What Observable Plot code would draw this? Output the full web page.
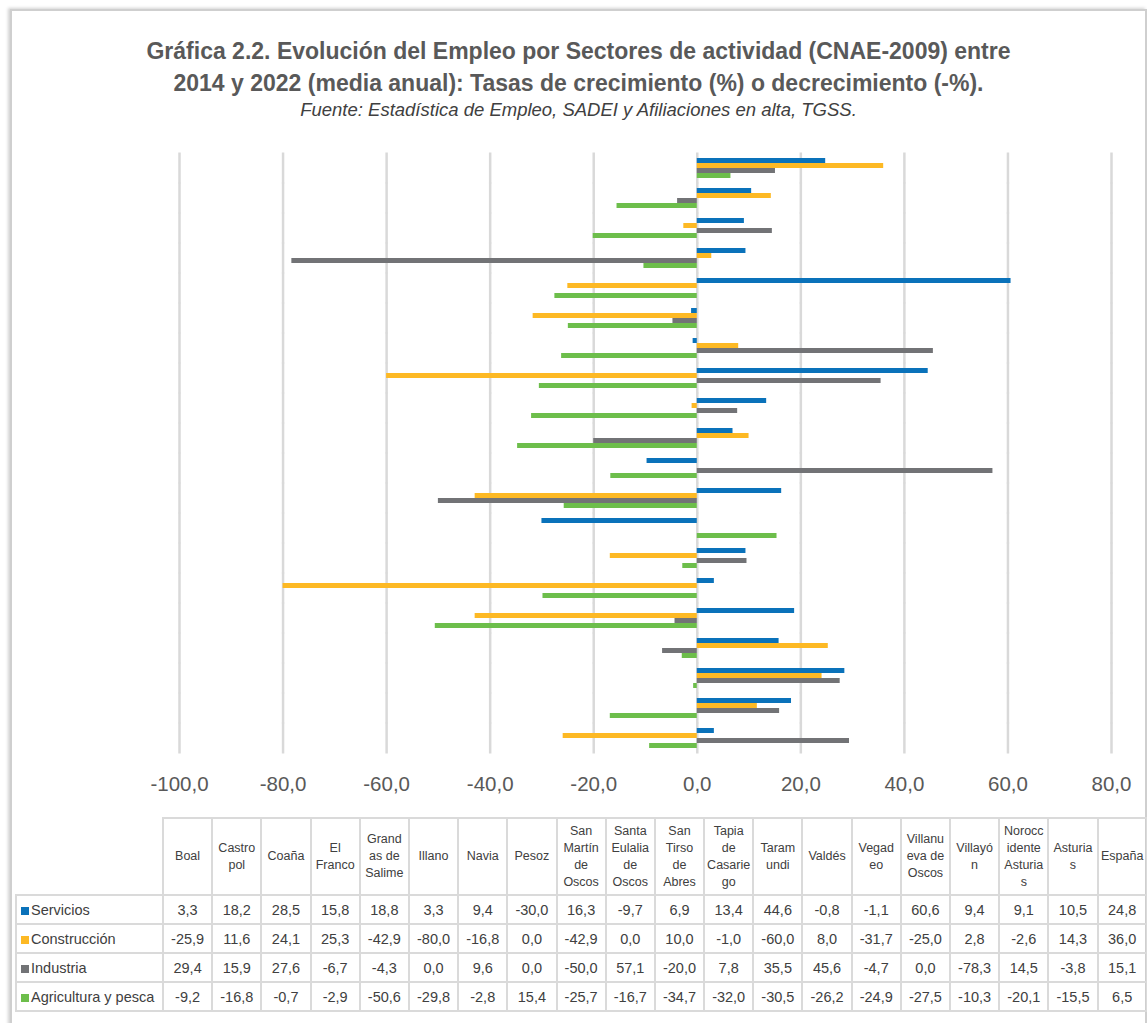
<!DOCTYPE html>
<html><head><meta charset="utf-8">
<script src="https://cdn.jsdelivr.net/npm/d3@7"></script>
<script src="https://cdn.jsdelivr.net/npm/@observablehq/plot@0.6"></script>
<style>
body{margin:0;background:#fff;width:1147px;height:1023px;overflow:hidden;position:relative;font-family:"Liberation Sans",sans-serif;}
#frame{position:absolute;left:10px;top:9px;width:1133px;height:1100px;border:2px solid #cfcfcf;box-shadow:-2px -1px 3px rgba(0,0,0,0.18);}
#title{position:absolute;left:11px;width:1135px;top:35px;text-align:center;color:#595959;font-weight:bold;font-size:23px;line-height:32px;}
#subtitle{position:absolute;left:11px;width:1135px;top:100px;text-align:center;color:#404040;font-style:italic;font-size:18.5px;line-height:20px;}
#chart{position:absolute;left:0;top:130px;}
#tbl{position:absolute;left:15px;top:817px;border-collapse:collapse;table-layout:fixed;width:1131px;font-size:14.5px;color:#404040;}
#tbl td{border:2px solid #dadada;text-align:center;padding:0;white-space:pre-line;overflow:hidden;}
#tbl tr.h td{height:75px;line-height:17px;font-size:12.5px;}
#tbl tr.d td{height:27px;}
#tbl td.lab{text-align:left;padding-left:4px;white-space:nowrap;}
#tbl td.corner{border-top:none;border-left:none;}
.sw{display:inline-block;width:8px;height:8px;margin-right:2px;}
</style></head>
<body>
<div id="frame"></div>
<div id="title">Gráfica 2.2. Evolución del Empleo por Sectores de actividad (CNAE-2009) entre<br>2014 y 2022 (media anual): Tasas de crecimiento (%) o decrecimiento (-%).</div>
<div id="subtitle">Fuente: Estadística de Empleo, SADEI y Afiliaciones en alta, TGSS.</div>
<div id="chart"></div>
<table id="tbl"></table>
<script>
const municipios = ["Boal","Castropol","Coaña","El Franco","Grandas de Salime","Illano","Navia","Pesoz","San Martín de Oscos","Santa Eulalia de Oscos","San Tirso de Abres","Tapia de Casariego","Taramundi","Valdés","Vegadeo","Villanueva de Oscos","Villayón","Noroccidente Asturias","Asturias","España"];
const encabezados = ["Boal","Castro\npol","Coaña","El\nFranco","Grand\nas de\nSalime","Illano","Navia","Pesoz","San\nMartín\nde\nOscos","Santa\nEulalia\nde\nOscos","San\nTirso\nde\nAbres","Tapia\nde\nCasarie\ngo","Taram\nundi","Valdés","Vegad\neo","Villanu\neva de\nOscos","Villayó\nn","Norocc\nidente\nAsturia\ns","Asturia\ns","España"];
const sectores = ["Servicios","Construcción","Industria","Agricultura y pesca"];
const colores = ["#0A72BA","#FDB924","#727376","#6DBE4B"];
const servicios    = [3.3,18.2,28.5,15.8,18.8,3.3,9.4,-30.0,16.3,-9.7,6.9,13.4,44.6,-0.8,-1.1,60.6,9.4,9.1,10.5,24.8];
const construccion = [-25.9,11.6,24.1,25.3,-42.9,-80.0,-16.8,0.0,-42.9,0.0,10.0,-1.0,-60.0,8.0,-31.7,-25.0,2.8,-2.6,14.3,36.0];
const industria    = [29.4,15.9,27.6,-6.7,-4.3,0.0,9.6,0.0,-50.0,57.1,-20.0,7.8,35.5,45.6,-4.7,0.0,-78.3,14.5,-3.8,15.1];
const agricultura  = [-9.2,-16.8,-0.7,-2.9,-50.6,-29.8,-2.8,15.4,-25.7,-16.7,-34.7,-32.0,-30.5,-26.2,-24.9,-27.5,-10.3,-20.1,-15.5,6.5];
const xTicks = [-100,-80,-60,-40,-20,0,20,40,60,80];

const series = [servicios, construccion, industria, agricultura];
const data = [];
municipios.forEach((m, i) => sectores.forEach((s, j) => data.push({municipio: m, sector: s, valor: series[j][i]})));

const loc = d3.formatLocale({decimal: ",", thousands: ".", grouping: [3], currency: ["", "€"], minus: "-"});
const fmt = loc.format(".1f");

const chart = Plot.plot({
  width: 1147, height: 671,
  marginLeft: 179, marginRight: 36, marginTop: 23, marginBottom: 48,
  style: {fontFamily: '"Liberation Sans",sans-serif', fontSize: "20.5px", color: "#595959", background: "transparent"},
  x: {domain: [-100, 80], ticks: xTicks, tickFormat: fmt, tickSize: 0, tickPadding: 27, label: null},
  y: {domain: sectores, padding: 0, axis: null},
  fy: {domain: municipios.slice().reverse(), paddingInner: 0.267, paddingOuter: 0.12, axis: null, label: null},
  color: {domain: sectores, range: colores},
  marks: [
    Plot.ruleX(xTicks, {stroke: "#d9d9d9", strokeWidth: 2.5, insetTop: -4.5, insetBottom: -4.5}),
    Plot.barX(data, {x: "valor", y: "sector", fy: "municipio", fill: "sector"})
  ]
});
document.getElementById("chart").appendChild(chart);

// data table
const tbl = document.getElementById("tbl");
const cg = document.createElement("colgroup");
const c0 = document.createElement("col"); c0.style.width = "147px"; cg.appendChild(c0);
encabezados.forEach(() => { const c = document.createElement("col"); c.style.width = "49.2px"; cg.appendChild(c); });
tbl.appendChild(cg);
const hr = document.createElement("tr"); hr.className = "h";
const corner = document.createElement("td"); corner.className = "corner"; hr.appendChild(corner);
encabezados.forEach(h => { const td = document.createElement("td"); td.textContent = h; hr.appendChild(td); });
tbl.appendChild(hr);
sectores.forEach((s, j) => {
  const tr = document.createElement("tr"); tr.className = "d";
  const lab = document.createElement("td"); lab.className = "lab";
  const sw = document.createElement("span"); sw.className = "sw"; sw.style.background = colores[j];
  lab.appendChild(sw); lab.appendChild(document.createTextNode(s));
  tr.appendChild(lab);
  series[j].forEach(v => { const td = document.createElement("td"); td.textContent = fmt(v); tr.appendChild(td); });
  tbl.appendChild(tr);
});
</script>
</body></html>
